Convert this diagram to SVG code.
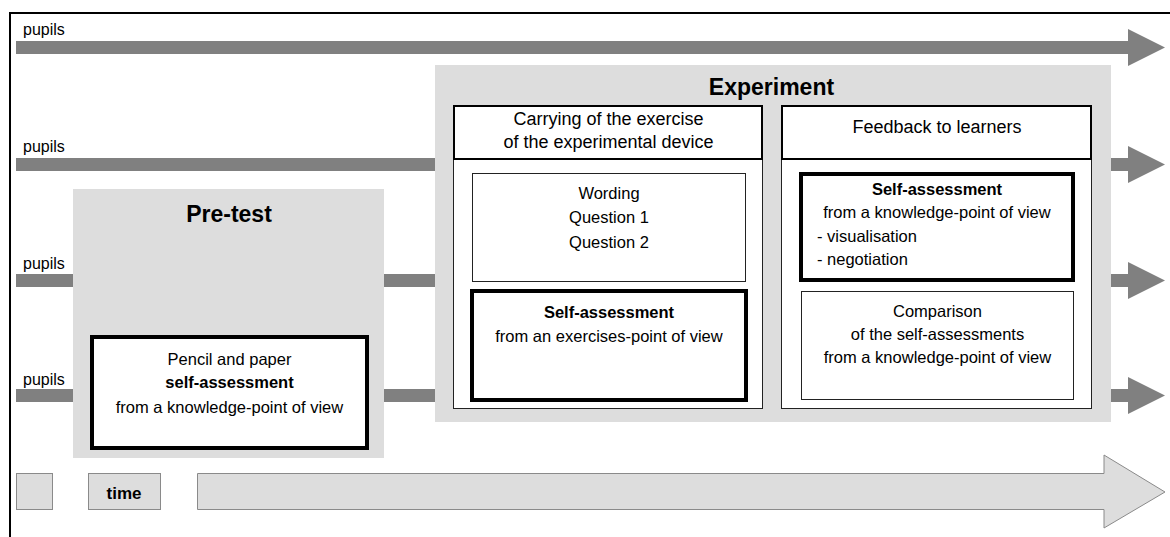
<svg xmlns="http://www.w3.org/2000/svg" width="1170" height="537" viewBox="0 0 1170 537">
<style>
text{font-family:"Liberation Sans",Arial,sans-serif;fill:#000}
.lbl{font-size:16px}
.t{font-size:16.5px;text-anchor:middle}
.tl{font-size:16.5px}
.b{font-weight:bold}
.h{font-size:18px;text-anchor:middle}
.bar{fill:#808080}
.zone{fill:#dddddd}
.col{fill:#fff;stroke:#222;stroke-width:1}
.hdr{fill:#fff;stroke:#000;stroke-width:2}
.thin{fill:#fff;stroke:#222;stroke-width:1}
.thick{fill:#fff;stroke:#000;stroke-width:4}
.tbox{fill:#dddddd;stroke:#8a8a8a;stroke-width:1}
</style>
<rect width="1170" height="537" fill="#fff"/>
<g id="frame">
<line x1="9" y1="13" x2="1170" y2="13" stroke="#000" stroke-width="2"/>
<line x1="10" y1="12" x2="10" y2="537" stroke="#000" stroke-width="2"/>
</g>
<g id="connectors">
<rect class="bar" x="16" y="41" width="1113" height="13"/>
<polygon class="bar" points="1128,29 1165,47.5 1128,66"/>
<rect class="bar" x="16" y="158" width="1113" height="13"/>
<polygon class="bar" points="1128,146 1165,164.5 1128,183"/>
<rect class="bar" x="16" y="274" width="1113" height="13"/>
<polygon class="bar" points="1128,262 1165,280.5 1128,299"/>
<rect class="bar" x="16" y="389" width="1113" height="13"/>
<polygon class="bar" points="1128,377 1165,395.5 1128,414"/>
<text class="lbl" x="23" y="35">pupils</text>
<text class="lbl" x="23" y="152">pupils</text>
<text class="lbl" x="23" y="269">pupils</text>
<text class="lbl" x="23" y="385">pupils</text>
</g>
<g id="pretest">
<rect class="zone" x="73" y="189" width="311" height="269"/>
<text x="229" y="222" font-size="23" font-weight="bold" text-anchor="middle">Pre-test</text>
</g>
<g id="pencil">
<rect class="thick" x="92" y="337" width="275" height="111"/>
<text class="t" x="229.5" y="365">Pencil and paper</text>
<text class="t b" x="229.5" y="388">self-assessment</text>
<text class="t" x="229.5" y="413">from a knowledge-point of view</text>
</g>
<g id="experiment">
<rect class="zone" x="435" y="65" width="676" height="357"/>
<text x="771.5" y="95" font-size="23" font-weight="bold" text-anchor="middle">Experiment</text>
</g>
<g id="col-carrying">
<rect class="col" x="453.5" y="105.5" width="309" height="303"/>
<rect class="hdr" x="454" y="106" width="308" height="53"/>
<text class="h" x="608.5" y="125">Carrying of the exercise</text>
<text class="h" x="608.5" y="148">of the experimental device</text>
</g>
<g id="wording">
<rect class="thin" x="472.5" y="173.5" width="273" height="108"/>
<text class="t" x="609" y="199">Wording</text>
<text class="t" x="609" y="223">Question 1</text>
<text class="t" x="609" y="248">Question 2</text>
</g>
<g id="self-exercise">
<rect class="thick" x="472" y="291" width="274" height="109"/>
<text class="t b" x="609" y="318">Self-assessment</text>
<text class="t" x="609" y="342">from an exercises-point of view</text>
</g>
<g id="col-feedback">
<rect class="col" x="781.5" y="105.5" width="310" height="303"/>
<rect class="hdr" x="782" y="106" width="309" height="53"/>
<text class="h" x="937" y="133">Feedback to learners</text>
</g>
<g id="self-knowledge">
<rect class="thick" x="801" y="174" width="272" height="106"/>
<text class="t b" x="937" y="195">Self-assessment</text>
<text class="t" x="937" y="218">from a knowledge-point of view</text>
<text class="tl" x="817" y="242">- visualisation</text>
<text class="tl" x="817" y="265">- negotiation</text>
</g>
<g id="comparison">
<rect class="thin" x="801.5" y="291.5" width="272" height="108"/>
<text class="t" x="937.5" y="317">Comparison</text>
<text class="t" x="937.5" y="340">of the self-assessments</text>
<text class="t" x="937.5" y="363">from a knowledge-point of view</text>
</g>
<g id="legend-square">
<rect class="tbox" x="16.5" y="473.5" width="36" height="36"/>
</g>
<g id="time-label">
<rect class="tbox" x="88.5" y="473.5" width="72" height="36"/>
<text x="124" y="499" font-size="17" font-weight="bold" text-anchor="middle">time</text>
</g>
<g id="time-arrow">
<polygon class="tbox" points="197.5,473.5 1104,473.5 1104,455 1165,492 1104,528 1104,509.5 197.5,509.5"/>
</g>
</svg>
